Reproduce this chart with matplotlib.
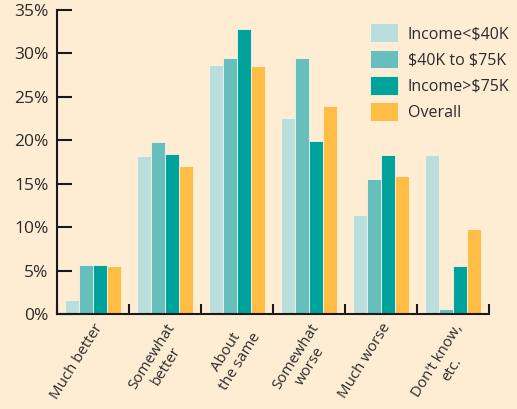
import matplotlib.pyplot as plt
import numpy as np

categories = ["Much better", "Somewhat\nbetter", "About\nthe same",
              "Somewhat\nworse", "Much worse", "Don't know,\netc."]
series_names = ["Income<\\$40K", "\\$40K to \\$75K", "Income>\\$75K", "Overall"]
low_income = [1.6, 18.2, 28.6, 22.5, 11.4, 18.3]
mid_income = [5.7, 19.8, 29.5, 29.5, 15.5, 0.6]
high_income = [5.7, 18.4, 32.8, 19.9, 18.3, 5.5]
overall = [5.5, 17.0, 28.5, 23.9, 15.9, 9.8]
y_ticks = [0, 5, 10, 15, 20, 25, 30, 35]

colors = ["#b9dedd", "#66bfbd", "#00a39b", "#ffbd45"]
bg = "#feedd3"
text_color = "#2b2b2b"

plt.rcParams["font.family"] = ["Open Sans", "DejaVu Sans"]

fig = plt.figure(figsize=(5.17, 4.09), dpi=100, facecolor=bg)
ax = fig.add_axes([0.110, 0.232, 0.836, 0.744], facecolor=bg)

x = np.arange(len(categories))
width = 0.195
for i, (vals, name) in enumerate(zip([low_income, mid_income, high_income, overall], series_names)):
    ax.bar(x + (i - 1.5) * width, vals, width, color=colors[i], label=name,
           edgecolor="#fbf3e4", linewidth=0.6)

ax.set_xlim(-0.5, len(categories) - 0.5)
ax.set_ylim(0, 35)
ax.set_yticks(y_ticks)
ax.set_yticklabels([f"{v}%" for v in y_ticks])

# boundary ticks between groups, labels centred under each group
ax.set_xticks(np.arange(len(categories) + 1) - 0.5)
ax.set_xticklabels([])
ax.set_xticks(x, minor=True)
ax.set_xticklabels(categories, minor=True, rotation=58, ha="right",
                   rotation_mode="anchor", multialignment="center")
ax.tick_params(axis="x", which="major", direction="in", length=7, width=1.5, color="#1a1a1a")
ax.tick_params(axis="x", which="minor", length=0, pad=5, labelsize=10.8, labelcolor=text_color)
ax.tick_params(axis="y", direction="in", length=11, width=1.5, color="#1a1a1a",
               labelsize=12.5, labelcolor=text_color, pad=6)

for side in ["top", "right"]:
    ax.spines[side].set_visible(False)
for side in ["left", "bottom"]:
    ax.spines[side].set_linewidth(1.5)
    ax.spines[side].set_color("#1a1a1a")

leg = fig.legend(loc="upper left", bbox_to_anchor=(0.688, 0.978), frameon=False,
                 fontsize=11.5, labelcolor=text_color, handlelength=1.75, handleheight=1.45,
                 handletextpad=0.6, labelspacing=0.45)

fig.savefig("out.png", dpi=100, facecolor=bg)
